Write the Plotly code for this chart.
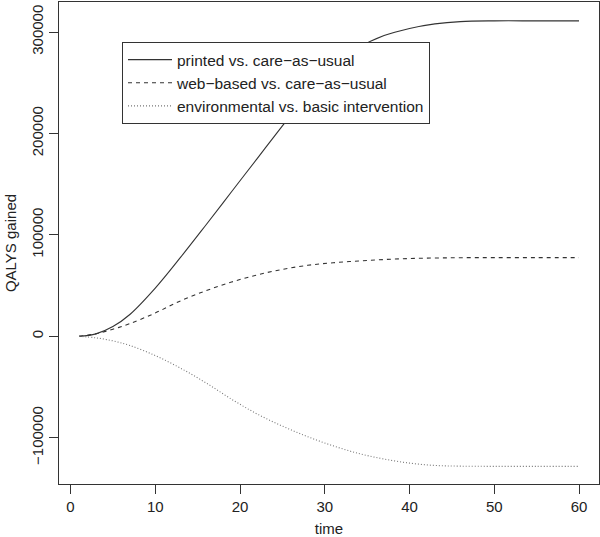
import plotly.graph_objects as go

time = [1, 3, 5, 7, 10, 13, 16, 19, 22, 25, 28, 31, 34, 37, 40, 43, 46, 50, 55, 60]
printed = [0, 2400, 9600, 21500, 47500, 78000, 110000, 142500, 175000, 207500, 239000,
           265500, 284500, 296500, 303500, 308000, 310300, 311000, 311000, 311000]
web = [0, 2500, 7000, 12500, 23000, 35000, 45000, 53500, 60500, 66000, 70000,
       72500, 74300, 75700, 76700, 77200, 77500, 77600, 77600, 77600]
environmental = [0, -1500, -4500, -9000, -19000, -31500, -46000, -62000, -76500, -88500, -99000,
                 -108000, -115500, -121000, -125000, -127300, -128000, -128200, -128200, -128200]

names = ["printed vs. care\u2212as\u2212usual",
         "web\u2212based vs. care\u2212as\u2212usual",
         "environmental vs. basic intervention"]
x_ticks = [0, 10, 20, 30, 40, 50, 60]
y_ticks = [-100000, 0, 100000, 200000, 300000]

FONT = "Liberation Sans, Arial, sans-serif"
TXT = "#222222"
fig = go.Figure()
for ys, nm, dash, col in [(printed, names[0], "solid", "#333333"),
                          (web, names[1], "4px,4px", "#333333"),
                          (environmental, names[2], "1px,2px", "#777777")]:
    fig.add_trace(go.Scatter(x=time, y=ys, mode="lines", name=nm,
                             line=dict(color=col, width=1.1, dash=dash, shape="spline", smoothing=1.0)))

ax_common = dict(showline=True, linecolor="#333333", linewidth=1, mirror=True,
                 ticks="outside", ticklen=9, tickcolor="#333333", tickwidth=1,
                 showgrid=False, zeroline=False,
                 tickfont=dict(family=FONT, size=15, color=TXT))
fig.update_xaxes(range=[-1.36, 62.36], tickvals=x_ticks,
                 title=dict(text="time", font=dict(family=FONT, size=15, color=TXT), standoff=11),
                 **ax_common)
fig.update_yaxes(range=[-145600, 329600], tickvals=y_ticks,
                 ticktext=[str(v).replace("-", "\u2212") for v in y_ticks],
                 tickangle=-90,
                 title=dict(text="QALYS gained", font=dict(family=FONT, size=15, color=TXT), standoff=8),
                 **ax_common)
fig.update_layout(
    width=600, height=537,
    margin=dict(l=59, r=1, t=2, b=53),
    plot_bgcolor="white", paper_bgcolor="white",
    legend=dict(x=(122 - 59) / 540, y=1 - (42 - 2) / 482, xanchor="left", yanchor="top",
                bordercolor="#333333", borderwidth=1, bgcolor="white",
                font=dict(family=FONT, size=15.5, color=TXT),
                itemwidth=44, tracegroupgap=0),
    showlegend=True,
)
fig.write_html("out.html", config={"displayModeBar": False},
               post_script="document.body.style.margin='0px';document.body.style.overflow='hidden';")
